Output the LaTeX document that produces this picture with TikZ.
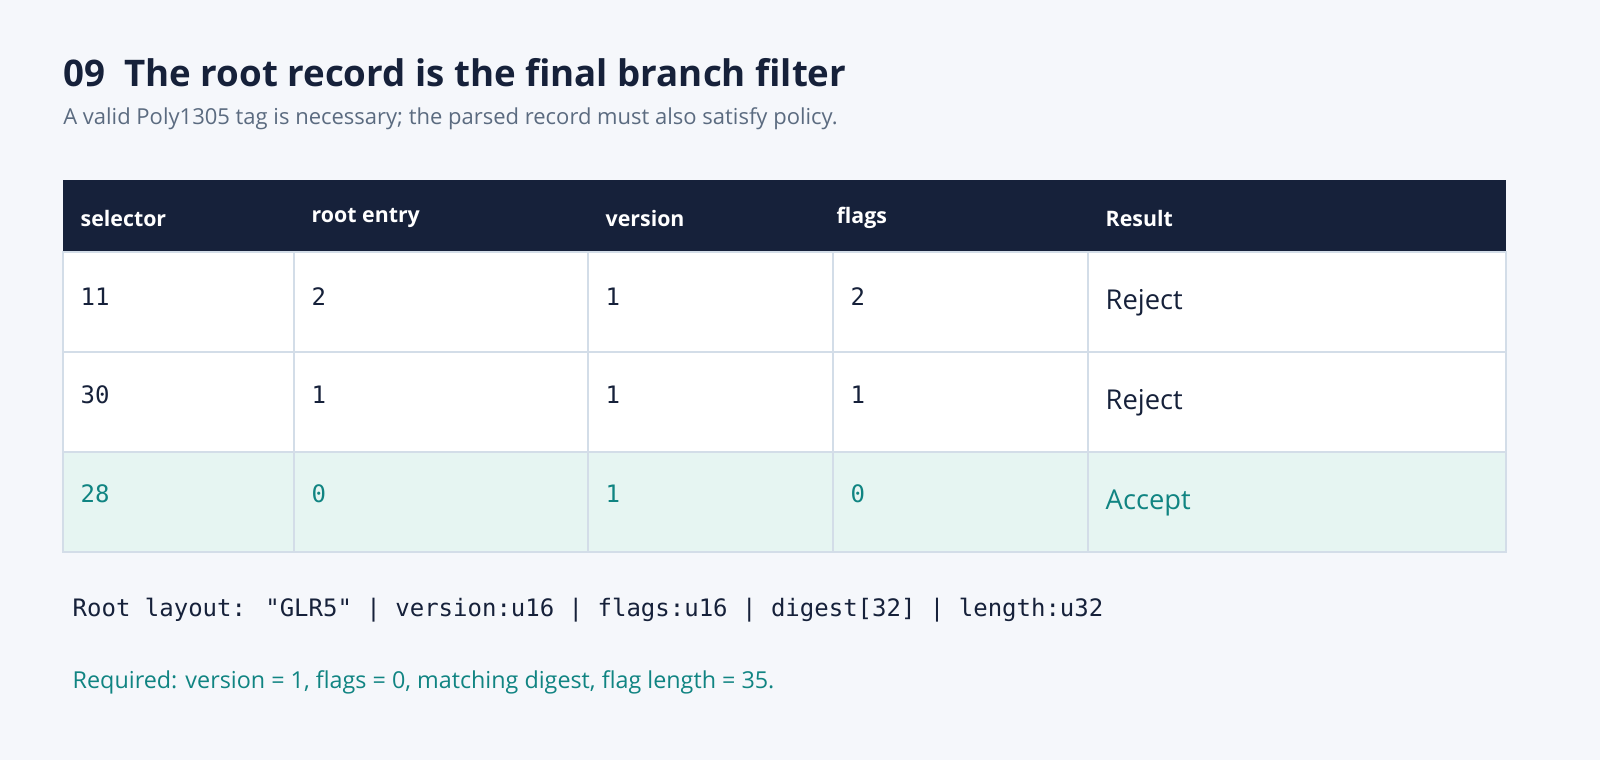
\documentclass[tikz,border=0pt]{standalone}
\usepackage{fontspec}
\setmainfont{Open Sans}
\newfontfamily\mono{DejaVu Sans Mono}
\definecolor{bg}{HTML}{F5F7FB}
\definecolor{navy}{HTML}{16213A}
\definecolor{grid}{HTML}{D3DDE8}
\definecolor{sub}{HTML}{5B6B80}
\definecolor{teal}{HTML}{108482}
\definecolor{acc}{HTML}{E6F5F2}
\begin{document}%
\begin{tikzpicture}[x=0.75pt,y=-0.75pt,
  hd/.style={anchor=west,text=white,font=\fontsize{16}{19}\selectfont\bfseries},
  cell/.style={anchor=west,text=navy,font=\mono\fontsize{18}{21}\selectfont},
  res/.style={anchor=west,text=navy,font=\fontsize{20.5}{24}\selectfont}]
\fill[bg] (0,0) rectangle (1600,760);
\useasboundingbox (0,0) rectangle (1600,760);
\node[anchor=base west,text=navy,font=\fontsize{27.5}{34}\selectfont\bfseries,inner sep=0] (title) at (63,86) {09\ \ The root record is the final branch filter};
\node[anchor=base west,text=sub,font=\fontsize{16.5}{20}\selectfont,inner sep=0] (subt) at (63,124) {A valid Poly1305 tag is necessary; the parsed record must also satisfy policy.};
\fill[navy] (63,180) rectangle (1506,252);
\fill[white] (63,252) rectangle (1506,452);
\fill[acc] (63,452) rectangle (1506,552);
\draw[grid,line width=1.5pt] (63,252) rectangle (1506,552);
\foreach \y in {352,452} \draw[grid,line width=1.5pt] (63,\y) -- (1506,\y);
\foreach \x in {294,588,833,1088} \draw[grid,line width=1.5pt] (\x,252) -- (\x,552);
\node[hd] (h1) at (76,218) {selector};
\node[hd] (h2) at (307,218) {root entry};
\node[hd] (h3) at (601,218) {version};
\node[hd] (h4) at (832,218) {flags};
\node[hd] (h5) at (1101,218) {Result};
\node[cell] (a1) at (76,297) {11};
\node[cell] (a2) at (307,297) {2};
\node[cell] (a3) at (601,297) {1};
\node[cell] (a4) at (846,297) {2};
\node[res] (a5) at (1101,303) {Reject};
\node[cell] (b1) at (76,395) {30};
\node[cell] (b2) at (307,395) {1};
\node[cell] (b3) at (601,395) {1};
\node[cell] (b4) at (846,395) {1};
\node[res] (b5) at (1101,403) {Reject};
\node[cell,text=teal] (c1) at (76,494) {28};
\node[cell,text=teal] (c2) at (307,494) {0};
\node[cell,text=teal] (c3) at (601,494) {1};
\node[cell,text=teal] (c4) at (846,494) {0};
\node[res,text=teal] (c5) at (1101,503) {Accept};
\node[anchor=west,text=navy,font=\mono\fontsize{18}{21}\selectfont] (lay) at (68,610) {Root layout: "GLR5" | version:u16 | flags:u16 | digest[32] | length:u32};
\node[anchor=west,text=teal,font=\fontsize{17.5}{21}\selectfont] (req) at (68,682) {Required: version = 1, flags = 0, matching digest, flag length = 35.};
\end{tikzpicture}%
\end{document}
